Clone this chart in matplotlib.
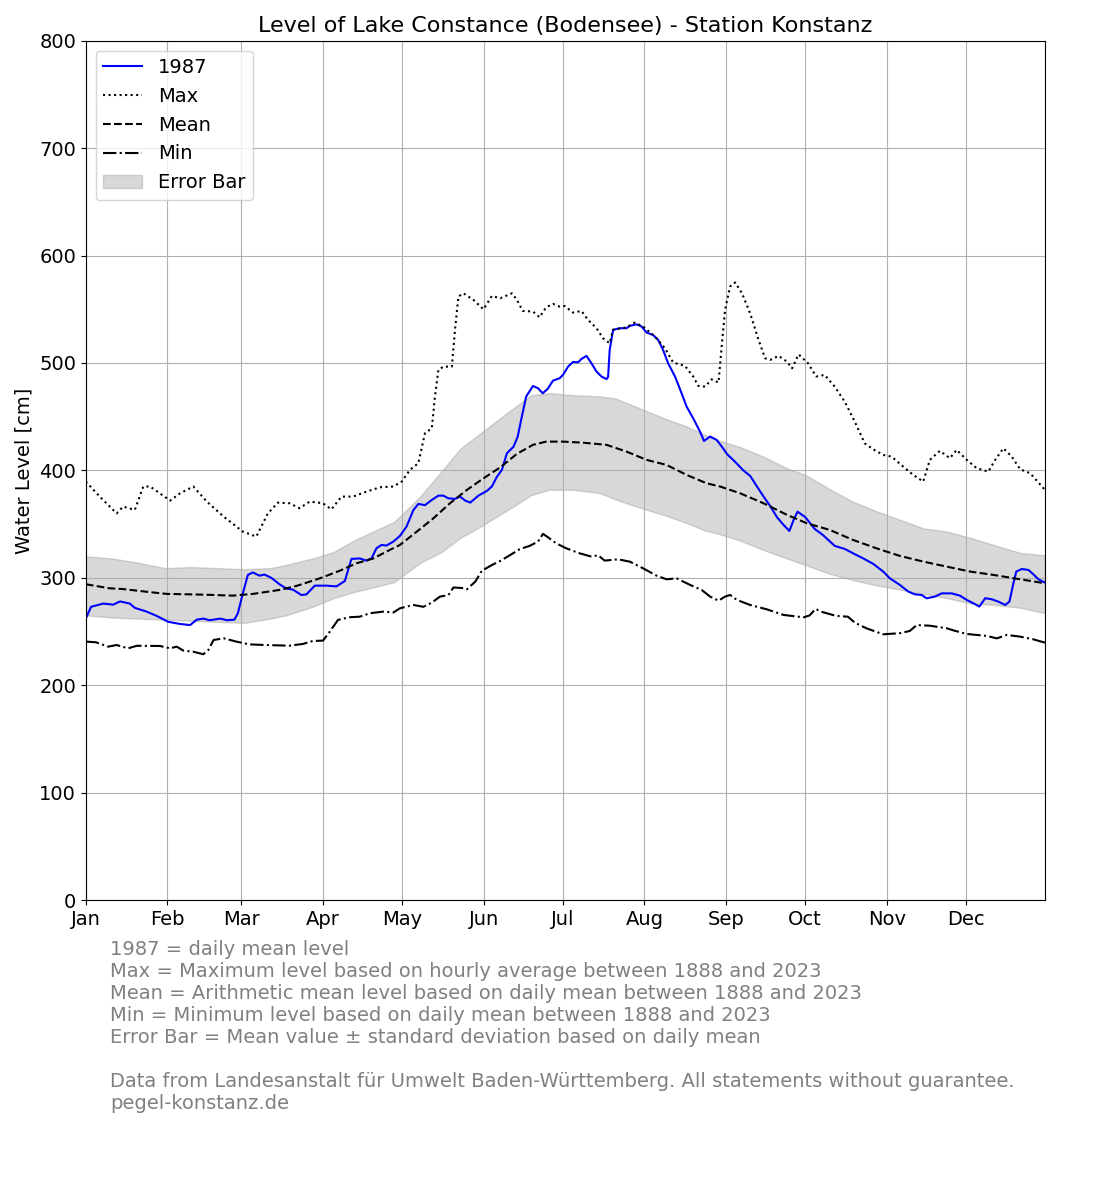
import matplotlib
matplotlib.use('Agg')
import matplotlib.pyplot as plt

plt.rcParams['font.family'] = ['DejaVu Sans']
plt.rcParams['font.size'] = 14

# 1987 daily mean level (day of year, cm)
y1987_days = [0, 2, 6.6, 10.4, 13, 16.7, 18.6, 23.1, 26.9, 31.3, 35.8, 39.6, 42.1, 44.6, 47, 51, 53.6, 56.4,
              57.7, 59.6, 61.5, 63.4, 65.9, 67.8, 70.4, 73.5, 76.1, 78.6, 81.8, 83.7, 86.9, 91.3, 95.1, 98.3,
              100.8, 104, 106.5, 108.4, 110.3, 112.2, 114.1, 116.7, 119.2, 121.7, 124.3, 126.2, 128.7, 131.3,
              133.8, 135.7, 137.6, 140.1, 142, 144, 145.9, 149, 152.2, 154.1, 156, 157.9, 159.8,
              162.3, 163.9, 165.2, 167.1, 169.7, 171.6, 173.4, 175.3, 177.3, 179.8, 181.1, 183, 184.9,
              186.8, 188.1, 190, 191.9, 193.8, 195.7, 197.6, 198.2, 198.8, 200.1, 202.6, 205.2, 206.5,
              209, 210.9, 212.8, 215.3, 217.2, 219.1, 221, 223.6, 226.1, 228, 230.5, 233.1, 234.6,
              236.9, 239.4, 241.4, 243.4, 246.4, 249.6, 252.1, 254.7, 257.2, 259.7, 262.3, 264.8, 267, 268.6,
              270.1, 273.1, 276.6, 279.7, 284.2, 288, 291.1, 294.9, 298.8, 302.6, 305.1, 308.9, 312.1, 314.6,
              317.2, 319.1, 322.2, 324.8, 328.6, 331.7, 334.3, 336.8, 339.1, 341.3, 343.8, 346.3, 348.9, 350.5,
              352, 353.1, 355.2, 357.7, 359.6, 361.5, 364]
y1987_vals = [262, 273, 276, 275, 278, 276, 272, 268.5, 264.5, 259, 257, 256, 261, 262, 260.5, 262, 260.5, 261,
              267, 285.5, 302.7, 305, 302, 303, 300, 294, 290, 289, 284, 284.5, 292.7, 292.7, 292, 297,
              317.6, 318, 316, 318, 327.5, 330.6, 330, 333.7, 339, 347.6, 363, 368.8, 367.6, 372.5,
              376.5, 376.5, 374, 373.5, 375.6, 371.9, 370, 376.5, 380.9, 385, 394, 400.5, 416,
              422, 431.5, 447, 468.7, 478.6, 476.5, 471.8, 476, 483.6, 485.8, 489, 496.6, 501,
              500.6, 503.8, 506.6, 499.7, 492, 487.4, 485, 487, 512, 530.8, 532.4, 532.4, 534.6,
              536, 534, 528.4, 526, 521.5, 512, 499.7, 487.4, 471.8, 459.4, 448.5, 436, 427.4,
              431.5, 428.4, 422, 415, 408, 399.8, 394.9, 385, 375.6, 366.9, 356.4, 349.2, 343.6, 353.9,
              361.6, 356.3, 345.5, 339.9, 329.7, 326.9, 322.9, 318.2, 313, 305.8, 299.6, 293.4, 287.2, 284.6,
              284, 280.9, 282.5, 285.5, 285.5, 283.4, 279.4, 276.3, 273.2, 281, 280, 277.8, 274.7, 277.8,
              294.8, 305.8, 308.2, 307.3, 303.2, 298.6, 295.5]

# maximum level 1888-2023
max_days = [0, 5.3, 11.7, 14.2, 18.6, 21.8, 24.4, 32, 35.8, 40.8, 45.9, 52.3, 59.6, 64.7, 69.1, 72.9, 77.3, 81.1,
            85, 90, 93.2, 97, 101.4, 106.5, 111.6, 116.7, 119.9, 123, 126.2, 128.7, 131.3, 132.5, 133.8,
            135.7, 138.9, 140.1, 141.4, 143.3, 147.1, 150.9, 154.1, 157.3, 161.7, 163.6, 165.8, 169.7, 172.2,
            174.7, 177.3, 179.8, 181.7, 184.9, 188.1, 190.6, 193.8, 196.3, 198.8, 200.1, 205.2, 208.3, 211.5,
            216, 219.8, 222.9, 227.4, 230.5, 232.4, 235, 237.5, 240.1, 241.3, 242.6, 244.5, 246.4, 249, 252.1,
            255.3, 257.8, 259.7, 262.9, 266.1, 268, 270.5, 274.1, 277.2, 280.4, 284.2, 288, 291.8, 295.6,
            298.8, 302.6, 305.8, 310.2, 314, 317.8, 320.3, 324.1, 327.9, 330.5, 334.3, 338.1, 342.5, 345.1, 348.2,
            351.4, 354.6, 358.4, 364]
max_vals = [389.6, 375.6, 360, 366.3, 363.2, 385, 385, 371.9, 378.7, 385, 371, 357, 343, 338.4, 360, 370, 369.4, 364.8,
            371, 369.4, 363.7, 375.6, 375.6, 380.2, 384.3, 385, 389.6, 400.5, 406.7, 434.6, 439.2, 468.7, 493.6,
            496.6, 496.6, 530.8, 561.9, 564.9, 558.8, 550, 562.4, 560.3, 564.9, 558.8, 548.5, 547.9, 542.6,
            551.9, 555, 552.5, 553.1, 546.9, 548.5, 540.1, 532.4, 523, 518.4, 531, 533.2, 537.6, 533.9,
            524.6, 513.7, 500.4, 497.3, 487.4, 478.7, 478, 484.8, 481.8, 515.3, 549.5, 571.2, 575, 565, 546.3,
            521.5, 504.4, 502.9, 506.6, 501.3, 495, 508, 499.7, 487.4, 488.9, 478, 464, 445.4, 425.2,
            419.6, 414.4, 412.8, 403.5, 395.8, 389.6, 409.8, 418.2, 411.4, 419.1, 409.8, 402, 398.9, 409.8, 420.6,
            412.8, 401, 397.3, 381.8]

# arithmetic mean level
mean_days = [0, 9.1, 14.2, 23.1, 30.7, 39.6, 48.5, 55.8, 63.4, 73.5, 79.9, 88.8, 96.4, 102.7, 109.1, 115.4, 119.2,
             125.6, 131.9, 138.2, 144.6, 150.9, 157.3, 163.6, 169.7, 174.7, 181.1, 188.7, 197.6, 205.2, 212.8,
             220.4, 228, 235.6, 240.7, 248.3, 257.2, 266.1, 273.7, 282.3, 291.1, 300, 308.9, 317.8, 326.7,
             335.6, 344.4, 354.6, 364]
mean_vals = [294, 290.2, 289.5, 287, 285, 284.6, 284, 283.4, 285, 288.7, 292.4, 299.5, 306.6, 313.5, 318, 326, 330.6,
             343, 355.4, 369.4, 381.8, 392.6, 402.9, 415.4, 423.8, 426.8, 426.8, 425.8, 423.8, 417.5, 409.8,
             405.1, 395.8, 388, 385, 378.7, 369.4, 358.6, 350.7, 344.6, 335.3, 327.5, 320.4, 315.1, 310.4,
             305.8, 302.7, 298.6, 294.9]

# minimum level
min_days = [0, 3.8, 8.5, 11.7, 16.1, 19.3, 28.2, 32, 34.5, 37, 40.8, 44.6, 46.5, 48.5, 52.3, 57.1, 62.1, 68.5,
            77.3, 82.4, 86.2, 90, 92.6, 95.7, 100.2, 104, 107.8, 112.9, 116.7, 119.2, 124.3, 128.1, 131.3,
            134.4, 137.6, 139.5, 142.7, 144.6, 147.8, 150.3, 154.1, 157.3, 161.1, 164.6, 168.4, 171.6, 173.5,
            175.4, 178.5, 182.3, 187.4, 191.9, 194.4, 196.9, 202, 206.5, 211.5, 216.6, 220.4, 224.2, 229.3, 233.7,
            236.9, 240.1, 242.6, 244.5, 247.1, 252.1, 258.5, 264.8, 272.4, 274.7, 276.9, 279.7, 284.8, 289.2,
            291.8, 296.2, 302.6, 308.9, 312.7, 315.3, 320.3, 326.7, 329.3, 334.3, 341.9, 345.7, 349.5, 354.6,
            359.6, 364]
min_vals = [240.6, 240, 235.9, 237.4, 234.3, 236.7, 236.5, 234.3, 235.9, 232.2, 231.2, 228.8, 232.8, 242.1, 243.7, 240.6, 238, 237.4,
            236.8, 238.4, 241.2, 241.5, 249.9, 260.8, 263.3, 263.8, 267, 268.5, 267.7, 271.6, 274.7, 273, 276.9,
            282.5, 283.9, 291, 290.5, 289.3, 296.4, 306.6, 311.9, 315.7, 321.3, 326.6, 329.7, 333.7, 340.9,
            337.7, 332.1, 327.5, 322.8, 319.7, 321, 316, 317.2, 315, 308.8, 302, 298.6, 299.5, 293.4, 288.7,
            282.5, 278.7, 282.5, 284, 279.4, 274.7, 270.6, 265.4, 263.2, 265, 271, 268, 264.5, 263.8,
            258.3, 253, 247.4, 248.4, 250.5, 256, 255.4, 253, 251, 247.7, 245.9, 243.6, 246.8, 245.2,
            242.7, 239.6]

# mean +/- standard deviation
band_days = [0, 10, 20, 30, 40, 50, 60, 70, 76, 86, 94, 102, 109, 117, 127, 135, 142, 150, 158, 164, 169, 176,
             185, 195, 201, 207, 212, 220, 228, 235, 240, 248, 257, 266, 273, 282, 291, 300, 309, 318, 327,
             336, 344, 355, 364]
band_upper = [320, 318, 314, 309, 310, 309, 308, 309, 312, 318, 324, 335, 343, 352, 376, 399, 420, 435, 450, 461, 470, 472,
              470, 469, 467, 461, 456, 448, 441, 433, 428, 422, 413, 402, 396, 383, 371, 362, 354, 346, 343,
              337, 331, 323, 321]
band_lower = [265, 263, 262, 261, 260, 259, 258, 262, 265, 273, 281, 287, 291, 296, 314, 324, 337, 348, 360, 369, 377, 382,
              382, 379, 373, 368, 364, 358, 351, 344, 341, 335, 326, 318, 312, 304, 298, 293, 289, 285, 281,
              276, 275, 272, 267]

month_starts = [0, 31, 59, 90, 120, 151, 181, 212, 243, 273, 304, 334]
month_names = ['Jan', 'Feb', 'Mar', 'Apr', 'May', 'Jun', 'Jul', 'Aug', 'Sep', 'Oct', 'Nov', 'Dec']

notes = ("1987 = daily mean level\n"
         "Max = Maximum level based on hourly average between 1888 and 2023\n"
         "Mean = Arithmetic mean level based on daily mean between 1888 and 2023\n"
         "Min = Minimum level based on daily mean between 1888 and 2023\n"
         "Error Bar = Mean value \u00b1 standard deviation based on daily mean\n"
         "\n"
         "Data from Landesanstalt f\u00fcr Umwelt Baden-W\u00fcrttemberg. All statements without guarantee.\n"
         "pegel-konstanz.de")

fig = plt.figure(figsize=(11, 12), dpi=100)
ax = fig.add_axes([0.078, 0.25, 0.872, 0.716])

ax.plot(y1987_days, y1987_vals, color='blue', lw=1.5, label='1987')
ax.plot(max_days, max_vals, color='black', ls=':', lw=1.5, label='Max')
ax.plot(mean_days, mean_vals, color='black', ls='--', lw=1.5, label='Mean')
ax.plot(min_days, min_vals, color='black', ls='-.', lw=1.5, label='Min')
ax.fill_between(band_days, band_lower, band_upper, color='grey', alpha=0.3, label='Error Bar')

ax.set_xlim(0, 364)
ax.set_ylim(0, 800)
ax.set_xticks(month_starts)
ax.set_xticklabels(month_names)
ax.grid(True)
ax.set_ylabel('Water Level [cm]')
ax.set_title('Level of Lake Constance (Bodensee) - Station Konstanz', fontsize=16)
ax.legend(loc='upper left')

fig.text(0.1, 0.217, notes, color='grey', va='top', ha='left', fontsize=14)

fig.savefig('out.png', dpi=100)
